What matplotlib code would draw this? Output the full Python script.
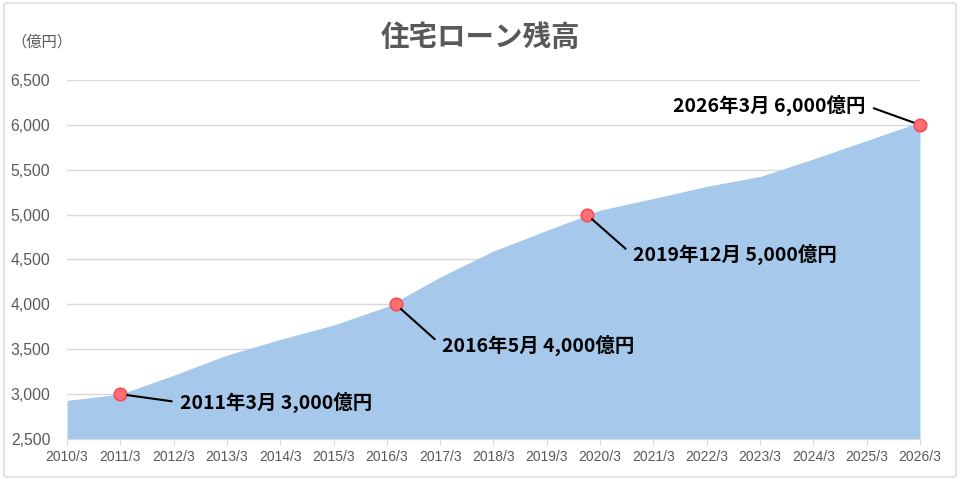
import matplotlib.pyplot as plt
from matplotlib.patches import FancyBboxPatch

# data
years = list(range(2010, 2027))
labels = [f'{y}/3' for y in years]
balance = [2930, 3000, 3210, 3435, 3610, 3770, 3975, 4305, 4595, 4825,
           5050, 5180, 5315, 5425, 5620, 5825, 6030]

# milestones (year, month, value)
ms_year = [2011, 2016, 2019, 2026]
ms_month = [3, 5, 12, 3]
ms_value = [3000, 4000, 5000, 6000]
ms_text = ['2011年3月 3,000億円', '2016年5月 4,000億円',
           '2019年12月 5,000億円', '2026年3月 6,000億円']

jp = ['Noto Sans CJK JP', 'DejaVu Sans']
num = ['Liberation Sans', 'Noto Sans CJK JP']
gray = '#595959'

fig = plt.figure(figsize=(9.6, 4.8), dpi=100)
ax = fig.add_axes([0.0698, 0.0854, 0.8885, 0.748])

x = list(range(len(years)))
ax.fill_between(x, 2500, balance, color='#A6C9EB', lw=0, zorder=2)

ax.set_xlim(0, len(years) - 1)
ax.set_ylim(2500, 6500)
ax.set_yticks(range(2500, 6501, 500))
ax.set_yticklabels([f'{v:,}' for v in range(2500, 6501, 500)],
                   family=num, fontsize=11.3, color=gray)
ax.set_xticks(x)
ax.set_xticklabels(labels, family=num, fontsize=10, color=gray)
ax.grid(axis='y', color='#D9D9D9', lw=1, zorder=1)
for s in ['top', 'right', 'left']:
    ax.spines[s].set_visible(False)
ax.spines['bottom'].set_color('#D9D9D9')
ax.tick_params(axis='y', length=0, pad=12)
ax.tick_params(axis='x', length=4, color='#D9D9D9', pad=4)

# milestone markers + callouts (offsets in points)
offsets = [(43, -6), (33, -29.5), (33, -29), (-39, 14)]
for yr, mo, v, t, off in zip(ms_year, ms_month, ms_value, ms_text, offsets):
    mx = (yr - 2010) + (mo - 3) / 12
    ax.plot(mx, v, 'o', ms=9, mfc='#FF7074', mec='#F25058', mew=1.2,
            zorder=5, clip_on=False)
    left = off[0] > 0
    ax.annotate(t, (mx, v), xytext=off, textcoords='offset points',
                ha='left' if left else 'right', va='center', family=jp,
                fontsize=14, fontweight='bold', color='black', zorder=6,
                arrowprops=dict(arrowstyle='-', color='black', lw=1.5,
                                shrinkA=4, shrinkB=5,
                                relpos=(0, 0.5) if left else (1, 0.5)))

fig.text(0.5, 0.922, '住宅ローン残高', ha='center', va='center',
         family=jp, fontsize=20.5, fontweight='bold', color=gray)
fig.text(0.012, 0.912, '（億円）', ha='left', va='center',
         family=jp, fontsize=11, color=gray)

fig.patches.append(FancyBboxPatch((0.004, 0.006), 0.992, 0.988,
                                  boxstyle='round,pad=0,rounding_size=0.005',
                                  transform=fig.transFigure, fill=False,
                                  ec='#D9D9D9', lw=1))

fig.savefig('out.png', dpi=100)
